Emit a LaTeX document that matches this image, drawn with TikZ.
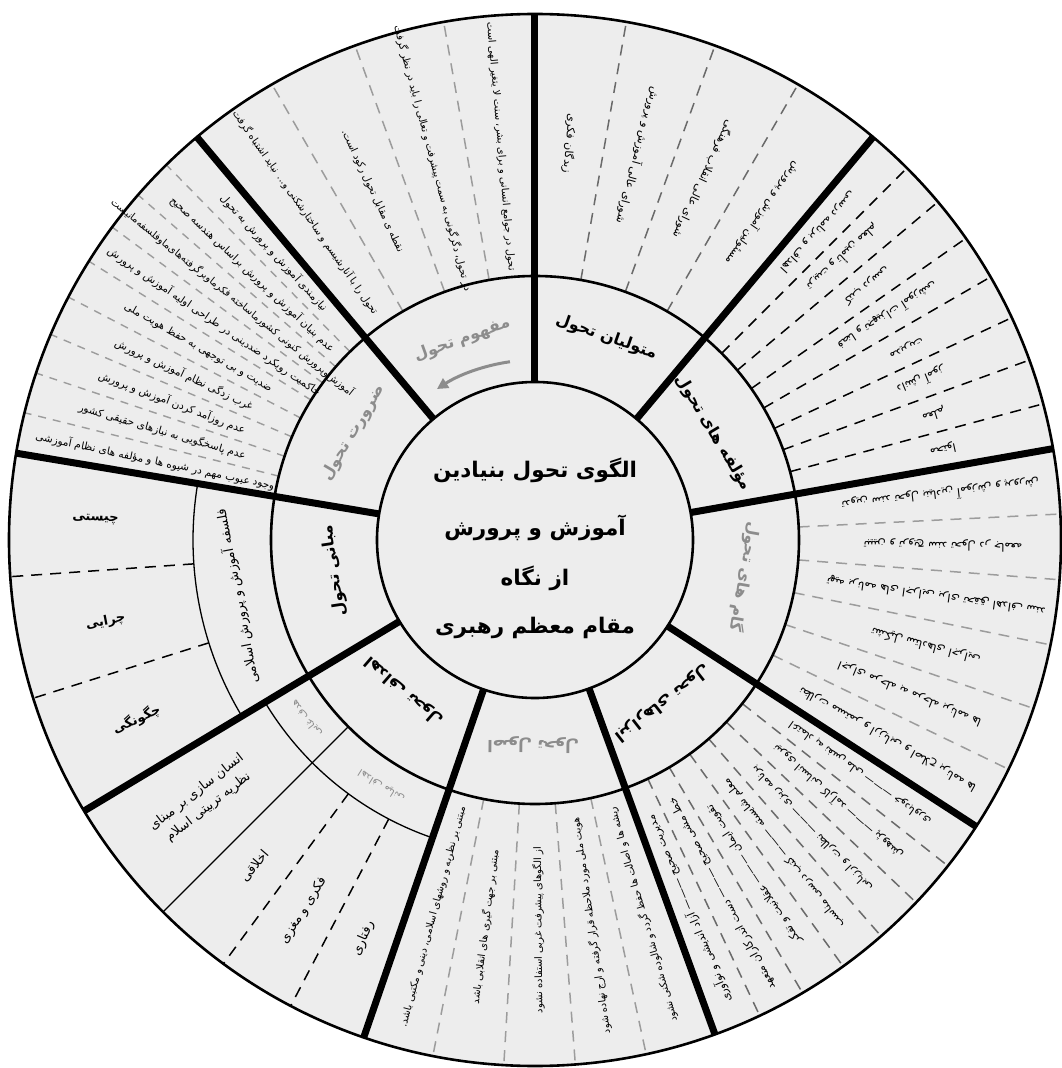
\documentclass[tikz,border=0pt]{standalone}
\usepackage{fontspec}
\newfontfamily\fa[Script=Arabic]{DejaVu Sans}
\TeXXeTstate=1
\usetikzlibrary{arrows.meta}
\definecolor{bgc}{HTML}{EDEDED}
\definecolor{lblgray}{HTML}{8C8C8C}
\definecolor{dashgray}{HTML}{9C9C9C}
\definecolor{dashdark}{HTML}{6A6A6A}
% radial item: style, name, angle, radius, text
\newcommand\ritem[5]{\node[#1,rotate=#3+180] (#2) at (#3:#4) {#5};}
% tangential item
\newcommand\titem[5]{\node[#1,rotate=#3-90] (#2) at (#3:#4) {#5};}
\begin{document}
\begin{tikzpicture}[x=1pt,y=1pt,
  thickline/.style={line width=7pt},
  ringline/.style={line width=2.6pt},
  thinline/.style={line width=1.3pt},
  bdash/.style={line width=1.5pt, dash pattern=on 11pt off 8pt},
  gdash/.style={bdash, draw=dashgray},
  ddash/.style={bdash, draw=dashdark},
  sdash/.style={line width=1.4pt, dash pattern=on 8pt off 7pt, draw=dashgray},
  item/.style={font=\fa\fontsize{10}{12}\selectfont, inner sep=0pt},
  ritem/.style={font=\fa\fontsize{11.5}{13}\selectfont, inner sep=0pt},
  zitem/.style={font=\fa\fontsize{10.5}{12}\selectfont, inner sep=0pt},
  mitem/.style={font=\fa\fontsize{11}{13}\selectfont, inner sep=0pt},
  hitem/.style={font=\fa\fontsize{13}{15}\selectfont, inner sep=0pt},
  bitem/.style={font=\fa\bfseries\fontsize{13}{15}\selectfont, inner sep=0pt},
  lab/.style={font=\fa\bfseries\fontsize{16}{18}\selectfont, inner sep=0pt},
  glab/.style={lab, text=lblgray},
  small/.style={font=\fa\fontsize{10}{12}\selectfont, inner sep=0pt, text=lblgray},
  title/.style={font=\fa\bfseries\fontsize{21.5}{25}\selectfont, inner sep=0pt},
]
\useasboundingbox (-535,-528) rectangle (526,540);
\fill[bgc] (0,0) circle[radius=526pt];

% ---------- dashed separators ----------
\foreach \a in {100,110,120} \draw[gdash] (\a:264) -- (\a:526);
\foreach \a in {60,70,80} \draw[ddash] (\a:264) -- (\a:526);
\foreach \a in {15,20,...,45} \draw[bdash] (\a:264) -- (\a:526);
\foreach \a in {2.833,-4.333,-11.5,-18.667,-25.833} \draw[gdash] (\a:264) -- (\a:526);
\foreach \a in {-38.286,-43.571,-48.857,-54.143,-59.429,-64.714} \draw[ddash] (\a:264) -- (\a:526);
\foreach \a in {-77.8,-85.6,-93.4,-101.2} \draw[gdash] (\a:264) -- (\a:526);
\foreach \a in {-126.33,-117.67} \draw[bdash] (\a:315) -- (\a:526);
\foreach \a in {184,197.5} \draw[bdash] (\a:342) -- (\a:526);
\foreach \a in {134.5,139,143.5,148,152.5,157,161.5,166} \draw[sdash] (\a:264) -- (\a:526);

% ---------- thin sub-divisions ----------
\draw[thinline] (170.5:342) arc[start angle=170.5, end angle=211, radius=342pt];
\draw[thinline] (211:315) arc[start angle=211, end angle=251, radius=315pt];
\draw[thinline] (225:264) -- (225:526);

% ---------- circles and thick radial lines ----------
\draw[ringline] (0,0) circle[radius=526pt];
\draw[ringline] (0,0) circle[radius=264pt];
\draw[ringline] (0,0) circle[radius=158pt];
\foreach \a in {90,50,10,-33,-70,-109,-149,170.5,130} \draw[thickline] (\a:158) -- (\a:526);

% ---------- centre title ----------
\node[title] (t1) at (0,70) {\beginR الگوی تحول بنیادین\endR};
\node[title] (t2) at (0,12) {\beginR آموزش و پرورش\endR};
\node[title] (t3) at (0,-38) {\beginR از نگاه\endR};
\node[title] (t4) at (0,-88) {\beginR مقام معظم رهبری\endR};

% ---------- ring labels ----------
\titem{glab}{lmafhoom}{110}{213}{\beginR مفهوم تحول\endR}
\titem{lab}{lmotavalli}{70.6}{215}{\beginR متولیان تحول\endR}
\titem{lab}{lmoallefe}{31}{208}{\beginR مؤلفه های تحول\endR}
\titem{glab}{lgam}{-10}{213}{\beginR گام های تحول\endR}
\titem{lab}{labzar}{-52}{207}{\beginR ابزارهای تحول\endR}
\titem{glab}{losool}{-90.5}{205}{\beginR اصول تحول\endR}
\titem{lab}{lahdaf}{-131}{200}{\beginR اهداف تحول\endR}
\titem{lab}{lmabani}{188.6}{203}{\beginR مبانی تحول\endR}
\titem{glab}{lzarurat}{149.5}{211}{\beginR ضرورت تحول\endR}
\draw[lblgray, line width=3pt, -{Triangle[length=11pt,width=11pt]}]
  (98:180) arc[start angle=98, end angle=123, radius=180pt];

% ---------- مفهوم تحول ----------
\ritem{item}{m1}{95}{395}{\beginR تحول در جوامع انسانی و برای بشر، سنت لا یتغیر الهی است\endR}
\ritem{item}{m2}{105}{395}{\beginR در تحول، دگرگونی به سمت پیشرفت و تعالی را باید در نظر گرفت\endR}
\ritem{item}{m3}{115}{385}{\beginR نقطه ی مقابل تحول رکود است.\endR}
\ritem{item}{m4}{125}{400}{\beginR تحول را با آنارشیسم و ساختارشکنی و... نباید اشتباه گرفت\endR}

% ---------- متولیان تحول ----------
\ritem{mitem}{v1}{85}{398}{\beginR زبدگان فکری\endR}
\ritem{mitem}{v2}{75}{398}{\beginR شورای عالی آموزش و پرورش\endR}
\ritem{mitem}{v3}{65}{398}{\beginR شورای عالی انقلاب فرهنگی\endR}
\ritem{mitem}{v4}{55}{398}{\beginR مسئولین آموزش و پرورش\endR}

% ---------- مؤلفه های تحول ----------
\ritem{ritem}{c1}{47.5}{418}{\beginR اهداف و برنامه درسی\endR}
\ritem{ritem}{c2}{42.5}{418}{\beginR تربیت و تأمین معلم\endR}
\ritem{ritem}{c3}{37.5}{418}{\beginR کتب درسی\endR}
\ritem{ritem}{c4}{32.5}{418}{\beginR فضا و تجهیزات آموزشی\endR}
\ritem{ritem}{c5}{27.5}{418}{\beginR مدیریت\endR}
\ritem{ritem}{c6}{22.5}{418}{\beginR دانش آموز\endR}
\ritem{ritem}{c7}{17.5}{418}{\beginR معلم\endR}
\ritem{ritem}{c8}{12.5}{418}{\beginR محتوا\endR}

% ---------- گام های تحول ----------
\ritem{ritem}{g1}{6.42}{408}{\beginR تدوین سند تحول بنیادین آموزش و پرورش\endR}
\ritem{ritem}{g2}{-0.75}{408}{\beginR تبیین و ترویج سند تحول در جامعه\endR}
\ritem{ritem}{g3}{-7.92}{405}{\beginR تهیه برنامه های اجرایی برای تحقق اهداف سند\endR}
\ritem{ritem}{g4}{-15.08}{405}{\beginR تشکیل ستادهای اجرایی\endR}
\ritem{ritem}{g5}{-22.25}{405}{\beginR اجرای مرحله به مرحله برنامه ها\endR}
\ritem{ritem}{g6}{-29.42}{405}{\beginR نظارت مستمر و ارزیابی و اصلاح برنامه ها\endR}

% ---------- ابزارهای تحول ----------
\ritem{mitem}{b1}{-67.36}{400}{\beginR مدیریت صحیح ——— آزاد اندیشی و نوآوری\endR}
\ritem{mitem}{b2}{-62.07}{400}{\beginR خط مشی صحیح ——— دست اندرکاران متعهد\endR}
\ritem{mitem}{b3}{-56.79}{400}{\beginR تقویت ایمان ——— عقلانیت و تفکر\endR}
\ritem{mitem}{b4}{-51.5}{400}{\beginR معلم شایسته ——— کتب درسی مناسب\endR}
\ritem{mitem}{b5}{-46.21}{400}{\beginR برنامه ریزی ——— نظارت و ارزیابی\endR}
\ritem{mitem}{b6}{-40.93}{400}{\beginR نیروی انسانی کارآمد ——— پژوهش\endR}
\ritem{mitem}{b7}{-35.64}{400}{\beginR اعتماد به نفس ملی ——— خودباوری\endR}

% ---------- اصول تحول ----------
\ritem{item}{o1}{-105.1}{390}{\beginR مبتنی بر نظریه و روشهای اسلامی، دینی و مکتبی باشد.\endR}
\ritem{item}{o2}{-97.3}{390}{\beginR مبتنی بر جهت گیری های انقلابی باشد\endR}
\ritem{item}{o3}{-89.5}{390}{\beginR از الگوهای پیشرفت غربی استفاده نشود\endR}
\ritem{item}{o4}{-81.7}{390}{\beginR هویت ملی مورد ملاحظه قرار گرفته و ارج نهاده شود\endR}
\ritem{item}{o5}{-73.9}{390}{\beginR ریشه ها و اصالت ها حفظ گردد و شالوده شکنی نشود\endR}

% ---------- اهداف تحول ----------
\titem{small}{h1}{-142}{290}{\beginR هدف غایی\endR}
\titem{small}{h2}{-122}{290}{\beginR اهداف میانی\endR}
\node[hitem, rotate=38, align=center] (h3) at (-142:422)
  {\beginR انسان سازی بر مبنای\endR\\[4pt]\beginR نظریه تربیتی اسلام\endR};
\ritem{hitem}{h4}{-130.7}{430}{\beginR اخلاقی\endR}
\ritem{hitem}{h5}{-122}{437}{\beginR فکری و مغزی\endR}
\ritem{hitem}{h6}{-113.3}{434}{\beginR رفتاری\endR}

% ---------- مبانی تحول ----------
\titem{hitem}{n0}{190.75}{303}{\beginR فلسفه آموزش و پرورش اسلامی\endR}
\ritem{bitem}{n1}{177.25}{440}{\beginR چیستی\endR}
\ritem{bitem}{n2}{190.75}{437}{\beginR چرایی\endR}
\ritem{bitem}{n3}{204.25}{437}{\beginR چگونگی\endR}

% ---------- ضرورت تحول ----------
\ritem{zitem}{z1}{132.25}{388}{\beginR نیازمندی آموزش و پرورش به تحول\endR}
\ritem{zitem}{z2}{136.75}{388}{\beginR عدم بنیان آموزش و پرورش براساس هندسه صحیح\endR}
\ritem{item}{z3}{141.25}{388}{\beginR آموزش‌وپرورش کنونی کشورماساخته فکرماوبرگرفته‌های‌ماوفلسفه‌مانیست\endR}
\ritem{zitem}{z4}{145.75}{388}{\beginR حاکمیت رویکرد ضددینی در طراحی اولیه آموزش و پرورش\endR}
\ritem{zitem}{z5}{150.25}{388}{\beginR ضدیت و بی توجهی به حفظ هویت ملی\endR}
\ritem{zitem}{z6}{154.75}{388}{\beginR غرب زدگی نظام آموزش و پرورش\endR}
\ritem{zitem}{z7}{159.25}{388}{\beginR عدم روزآمد کردن آموزش و پرورش\endR}
\ritem{zitem}{z8}{163.75}{388}{\beginR عدم پاسخگویی به نیازهای حقیقی کشور\endR}
\ritem{zitem}{z9}{168.25}{388}{\beginR وجود عیوب مهم در شیوه ها و مؤلفه های نظام آموزشی\endR}
\end{tikzpicture}
\end{document}
